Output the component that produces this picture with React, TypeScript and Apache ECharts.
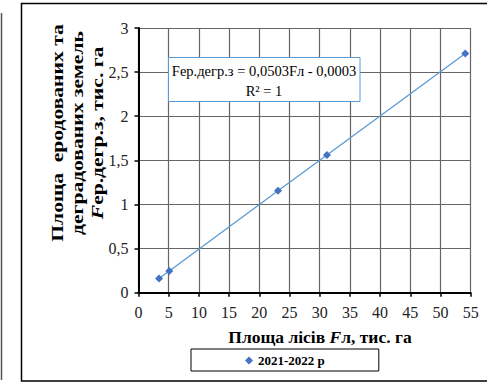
import React, { useEffect, useRef } from "react";
import * as echarts from "echarts";

const forestArea = [3.4, 5.1, 23.1, 31.2, 54.1];
const degradedArea = [0.16, 0.245, 1.155, 1.56, 2.71];
const seriesName = "2021-2022 р";
const equationText = "Fер.дегр.з = 0,0503Fл - 0,0003";
const r2Text = "R² = 1";

const SERIF = "Liberation Serif";

export default function App() {
  const ref = useRef<HTMLDivElement>(null);
  useEffect(() => {
    if (!ref.current) return;
    const chart = echarts.init(ref.current, null, { renderer: "svg" });
    const data = forestArea.map((x, i) => [x, degradedArea[i]]);
    chart.setOption({
      animation: false,
      backgroundColor: "#ffffff",
      grid: { left: 138.5, right: 16.3, top: 28, bottom: 90.3 },
      xAxis: {
        type: "value",
        min: 0,
        max: 55,
        interval: 5,
        axisLine: { show: true, onZero: false, lineStyle: { color: "#000", width: 2 } },
        axisTick: { show: true, length: 4, lineStyle: { color: "#000", width: 1.5 } },
        axisLabel: { color: "#222", fontFamily: SERIF, fontSize: 16, margin: 12 },
        splitLine: { show: true, lineStyle: { color: "#666", width: 1.2 } },
      },
      yAxis: {
        type: "value",
        min: 0,
        max: 3,
        interval: 0.5,
        axisLine: { show: true, onZero: false, lineStyle: { color: "#000", width: 2 } },
        axisTick: { show: true, length: 4, lineStyle: { color: "#000", width: 1.5 } },
        axisLabel: {
          color: "#222",
          fontFamily: SERIF,
          fontSize: 16,
          margin: 10,
          formatter: (v: number) => String(v).replace(".", ","),
        },
        splitLine: { show: true, lineStyle: { color: "#666", width: 1.2 } },
      },
      legend: {
        show: true,
        left: 191,
        top: 349,
        icon: "diamond",
        itemWidth: 8,
        itemHeight: 8,
        itemGap: 5,
        borderColor: "#000",
        borderWidth: 1,
        padding: [5, 54, 4, 54],
        textStyle: { fontFamily: SERIF, fontSize: 13, fontWeight: "bold", color: "#000" },
        data: [seriesName],
      },
      series: [
        {
          name: seriesName,
          type: "line",
          data,
          symbol: "diamond",
          symbolSize: 8,
          itemStyle: { color: "#4472C4" },
          lineStyle: { color: "#5B9BD5", width: 1.3 },
        },
      ],
      graphic: [
        {
          type: "line",
          shape: { x1: 1.5, y1: 13, x2: 1.5, y2: 380 },
          style: { stroke: "#555", lineWidth: 1.5 },
        },
        {
          type: "rect",
          shape: { x: 21.5, y: 3.5, width: 480, height: 377.5 },
          style: { fill: "none", stroke: "#000", lineWidth: 1.5 },
          z: 0,
        },
        {
          type: "rect",
          shape: { x: 168.5, y: 57.5, width: 191.5, height: 44 },
          style: { fill: "#fff", stroke: "#5B9BD5", lineWidth: 1 },
          z: 10,
        },
        {
          type: "text",
          x: 264,
          y: 71,
          z: 11,
          style: {
            text: equationText,
            align: "center",
            verticalAlign: "middle",
            fontFamily: SERIF,
            fontSize: 14.5,
            fill: "#000",
          },
        },
        {
          type: "text",
          x: 264,
          y: 91,
          z: 11,
          style: {
            text: r2Text,
            align: "center",
            verticalAlign: "middle",
            fontFamily: SERIF,
            fontSize: 14.5,
            fill: "#000",
          },
        },
        {
          type: "text",
          x: 77,
          y: 133,
          rotation: Math.PI / 2,
          scaleX: 1.27,
          z: 11,
          style: {
            text: "{b|Площа  еродованих та}\n{b|деградованих земель}\n{i|F}{b|ер.дегр.з, тис. га}",
            align: "center",
            verticalAlign: "middle",
            lineHeight: 20,
            fill: "#000",
            rich: {
              b: { fontFamily: SERIF, fontSize: 17, fontWeight: "bold", lineHeight: 20, fill: "#000" },
              i: { fontFamily: SERIF, fontSize: 17, fontWeight: "bold", fontStyle: "italic", lineHeight: 20, fill: "#000" },
            },
          },
        },
        {
          type: "text",
          x: 320,
          y: 337,
          z: 11,
          style: {
            text: "{b|Площа лісів }{i|F}{b|л, тис. га}",
            align: "center",
            verticalAlign: "middle",
            fill: "#000",
            rich: {
              b: { fontFamily: SERIF, fontSize: 17.5, fontWeight: "bold", fill: "#000" },
              i: { fontFamily: SERIF, fontSize: 17.5, fontWeight: "bold", fontStyle: "italic", fill: "#000" },
            },
          },
        },
      ],
    });
    return () => chart.dispose();
  }, []);
  return (
    <div
      ref={ref}
      style={{ position: "fixed", left: 0, top: 0, width: 487, height: 383, background: "#fff" }}
    />
  );
}
